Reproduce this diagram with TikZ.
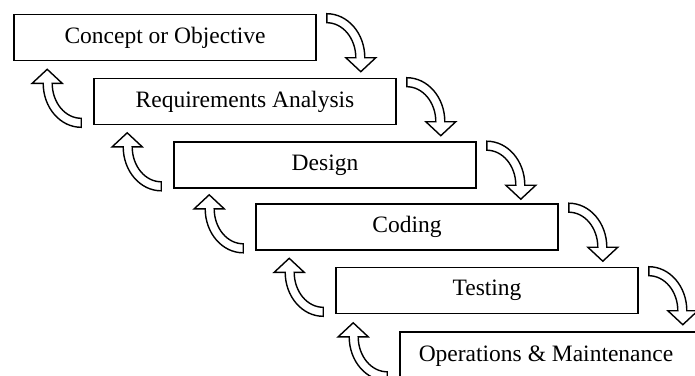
\documentclass[tikz,border=0pt]{standalone}
\usepackage{fontspec}
\setmainfont{Liberation Serif}
\usetikzlibrary{calc}
\begin{document}
\begin{tikzpicture}[x=1pt,y=-1pt,
  stagebox/.style={draw=black, line width=1.6pt, fill=white, minimum width=302pt, minimum height=46pt, inner sep=0pt, font=\fontsize{23.5}{28}\selectfont},
  stagetext/.style={inner sep=0pt, font=\fontsize{23.5}{28}\selectfont},
  arrowbody/.style={draw=black, line width=1.4pt, fill=white, line join=miter},
  rarr/.pic={\draw[arrowbody] (0,0) .. controls (21,0) and (38,19.7) .. (38,44) -- (49,44) -- (34,58) -- (19,44) -- (29,44) .. controls (29,24.7) and (16,9) .. (0,9) -- cycle;}
]
\useasboundingbox (0,0) rectangle (695,375);
\node[stagebox] (b1) at (165,37.5) {Concept or Objective};
\node[stagebox] (b2) at (245,101.5) {Requirements Analysis};
\node[stagebox] (b3) at (325,165) {Design};
\node[stagebox] (b4) at (407,227) {Coding};
\node[stagebox] (b5) at (487,290.5) {Testing};
\node[stagebox, minimum width=320pt] (b6) at (560,355) {};
\node[stagetext] (b6t) at (546,356) {Operations \& Maintenance};
% right (down) arrows
\foreach \b in {b1,b2,b3,b4,b5}{
  \pic at ($(\b.north east)+(10,0)$) {rarr};
}
% left (up) arrows
\foreach \b in {b2,b3,b4,b5,b6}{
  \pic[rotate=180] at ($(\b.south west)+(-12,2)$) {rarr};
}
\end{tikzpicture}
\end{document}
